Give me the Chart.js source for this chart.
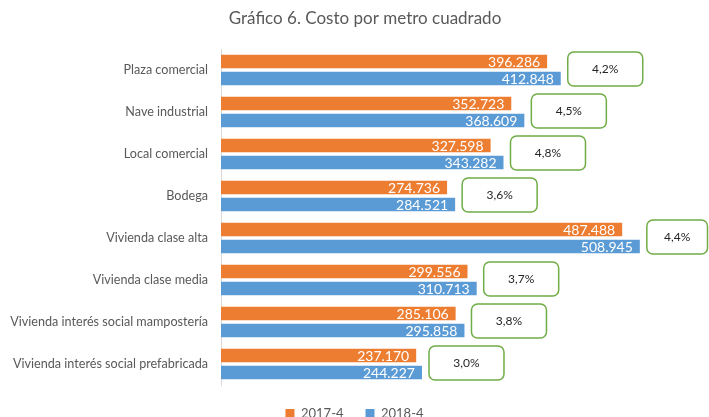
<!DOCTYPE html>
<html>
<head>
<meta charset="utf-8">
<script src="https://cdn.jsdelivr.net/npm/chart.js@4.4.1/dist/chart.umd.min.js"></script>
<style>
  html, body { margin: 0; padding: 0; background: #fff; overflow: hidden; }
</style>
</head>
<body>
<canvas id="myChart" width="709" height="430"></canvas>
<script>
// data
const categories = [
  'Plaza comercial',
  'Nave industrial',
  'Local comercial',
  'Bodega',
  'Vivienda clase alta',
  'Vivienda clase media',
  'Vivienda interés social mampostería',
  'Vivienda interés social prefabricada'
];
const values2017 = [396286, 352723, 327598, 274736, 487488, 299556, 285106, 237170];
const values2018 = [412848, 368609, 343282, 284521, 508945, 310713, 295858, 244227];
const changeLabels = ['4,2%', '4,5%', '4,8%', '3,6%', '4,4%', '3,7%', '3,8%', '3,0%'];
const seriesNames = ['2017-4', '2018-4'];
const chartTitle = 'Gráfico 6. Costo por metro cuadrado';

const fontFamily = 'Lato, "Open Sans", sans-serif';

function fmt(v) {
  return String(v).replace(/\B(?=(\d{3})+(?!\d))/g, '.');
}

// title centred a little right of the canvas centre, as in the original
const titlePlugin = {
  id: 'titlePlugin',
  afterDraw(chart) {
    const ctx = chart.ctx;
    ctx.save();
    ctx.font = '17px ' + fontFamily;
    ctx.fillStyle = '#595959';
    ctx.textAlign = 'center';
    ctx.textBaseline = 'middle';
    ctx.fillText(chartTitle, 365, 19);
    ctx.restore();
  }
};

// white value labels inside the end of each bar
const barLabels = {
  id: 'barLabels',
  afterDatasetsDraw(chart) {
    const ctx = chart.ctx;
    ctx.save();
    ctx.font = '14px ' + fontFamily;
    ctx.fillStyle = '#ffffff';
    ctx.textAlign = 'right';
    ctx.textBaseline = 'middle';
    chart.data.datasets.forEach((ds, i) => {
      chart.getDatasetMeta(i).data.forEach((bar, j) => {
        ctx.fillText(fmt(ds.data[j]), bar.x - 7, bar.y + 1);
      });
    });
    ctx.restore();
  }
};

// green callouts with the yearly change
const changeBoxes = {
  id: 'changeBoxes',
  afterDatasetsDraw(chart) {
    const ctx = chart.ctx;
    const xs = chart.scales.x;
    const ys = chart.scales.y;
    ctx.save();
    ctx.font = '12px ' + fontFamily;
    ctx.textAlign = 'center';
    ctx.textBaseline = 'middle';
    changeLabels.forEach((txt, i) => {
      const left = xs.getPixelForValue(values2018[i]) + 7;
      const right = Math.min(left + 75, chart.width - 1.5);
      const cy = ys.getPixelForValue(i) - 1;
      const top = cy - 17;
      ctx.beginPath();
      ctx.roundRect(left, top, right - left, 34, 6);
      ctx.fillStyle = '#ffffff';
      ctx.fill();
      ctx.lineWidth = 1.5;
      ctx.strokeStyle = '#70AD47';
      ctx.stroke();
      ctx.fillStyle = '#262626';
      ctx.fillText(txt, (left + right) / 2, cy);
    });
    ctx.restore();
  }
};

const ctx = document.getElementById('myChart');

new Chart(ctx, {
  type: 'bar',
  data: {
    labels: categories,
    datasets: [
      {
        label: seriesNames[0],
        data: values2017,
        backgroundColor: '#ED7D31',
        categoryPercentage: 0.81,
        barPercentage: 0.8
      },
      {
        label: seriesNames[1],
        data: values2018,
        backgroundColor: '#5B9BD5',
        categoryPercentage: 0.81,
        barPercentage: 0.8
      }
    ]
  },
  options: {
    indexAxis: 'y',
    responsive: false,
    animation: false,
    layout: { padding: { top: 49, left: 0, right: 0, bottom: 0 } },
    scales: {
      x: {
        display: false,
        min: 0,
        max: 593000
      },
      y: {
        grid: { display: false, drawTicks: false },
        border: { display: true, color: '#d9d9d9', width: 1 },
        ticks: {
          padding: 13,
          color: '#595959',
          font: { family: fontFamily, size: 12.6 }
        },
        afterFit(scale) { scale.width = 221; }
      }
    },
    plugins: {
      title: { display: false },
      legend: {
        position: 'bottom',
        labels: {
          boxWidth: 9,
          boxHeight: 9,
          padding: 22,
          color: '#595959',
          font: { family: fontFamily, size: 13 }
        }
      },
      tooltip: { enabled: false }
    }
  },
  plugins: [barLabels, changeBoxes, titlePlugin]
});
</script>
</body>
</html>
